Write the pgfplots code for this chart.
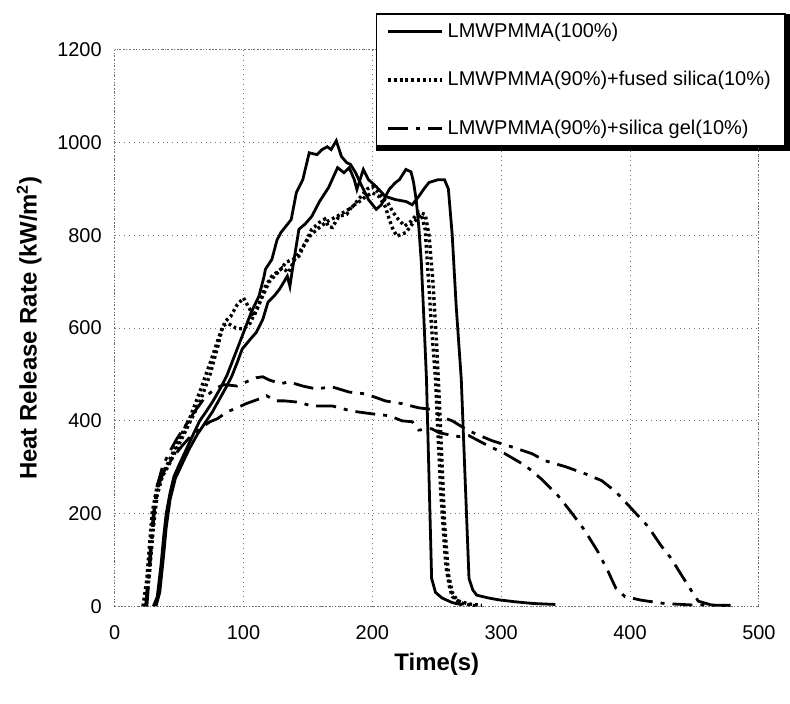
\documentclass[border=0pt]{standalone}
\usepackage{fontspec}
\setmainfont{Liberation Sans}
\usepackage{pgfplots}
\pgfplotsset{compat=1.18}
\usetikzlibrary{backgrounds}

\begin{document}
\begin{tikzpicture}
\begin{axis}[
  scale only axis, width=323pt, height=279pt,
  xmin=0, xmax=500, ymin=0, ymax=1200,
  xtick distance=100, ytick distance=200,
  major tick length=0pt,
  xmajorgrids, ymajorgrids,
  grid style={black!55, dotted, line width=0.5pt},
  axis line style={black!55, densely dotted, line width=0.6pt},
  tick label style={font=\fontsize{10}{12}\selectfont},
  /pgf/number format/assume math mode=true,
  /pgf/number format/1000 sep={},
  yticklabel style={xshift=-3pt},
  xticklabel style={yshift=-6pt},
  xlabel={\bfseries Time(s)},
  ylabel={\bfseries Heat Release Rate (kW/m\textsuperscript{2})},
  label style={font=\fontsize{12}{14}\selectfont},
  xlabel style={yshift=0pt},
  ylabel style={yshift=1pt},
  legend style={name=leg, at={(0.405,1.066)}, anchor=north west, draw=black, line width=0.9pt,
    fill=white, font=\fontsize{10}{12}\selectfont, row sep=11.5pt, inner xsep=5pt, inner ysep=2.5pt,
    cells={anchor=west}},
  legend image code/.code={\draw[#1] (0pt,0pt) -- (27pt,0pt);},
]
% LMWPMMA(100%) run 1
\addplot[black, line width=1.4pt] coordinates {
(30,0) (33,20) (36,90) (38,150) (40,200) (43,245) (46,280) (50,305) (55,335)
(60,365) (66,400) (71,420) (76,441) (82,470) (87,497) (93,540) (99,583) (106,634)
(112,669) (116,712) (117,727) (122,748) (126,790) (129,806) (133,820) (137,834)
(141,892) (146,920) (151,978) (157,974) (161,985) (165,991) (168,985) (172,1004)
(176,970) (180,957) (183,953) (187,935) (192,905) (197,877) (203,856) (207,866)
(213,899) (218,914) (221,920) (226,942) (230,937) (232,914) (234,877) (236,820)
(238,742) (240,620) (242,490) (244,275) (246,60) (249,30) (254,18) (262,8) (270,3)};
\addlegendentry{LMWPMMA(100\%)}
% LMWPMMA(100%) run 2
\addplot[black, line width=1.4pt, forget plot] coordinates {
(32,0) (35,30) (38,110) (40,170) (43,230) (47,275) (52,305) (58,340) (64,370)
(70,395) (76,420) (82,450) (87,475) (91,497) (95,525) (99,555) (105,575) (110,591)
(115,619) (119,656) (124,670) (128,684) (134,712) (136,690) (138,727) (143,813)
(148,825) (153,841) (159,873) (166,903) (173,946) (178,935) (182,946) (186,920)
(188,899) (193,942) (197,920) (203,905) (210,884) (218,877) (226,873) (231,866)
(236,884) (240,900) (244,914) (251,920) (256,920) (259,900) (262,800) (265,650)
(269,490) (272,275) (275,60) (278,35) (281,24) (290,18) (298,14) (310,10) (325,6) (342,4)};
% fused silica run 1
\addplot[black, line width=1.7pt, dash pattern=on 1.4pt off 1.5pt] coordinates {
(22,0) (25,60) (27,130) (29,200) (33,260) (37,285) (43,318) (50,360) (58,404)
(66,462) (76,540) (82,590) (86,615) (90,625) (95,650) (100,665) (104,645) (108,625)
(112,650) (117,690) (122,712) (129,727) (133,742) (138,748) (143,755) (148,784)
(153,813) (159,828) (163,835) (166,819) (169,817) (174,841) (180,845) (184,862)
(190,873) (195,884) (200,892) (205,884) (210,862) (215,819) (219,798) (226,806)
(232,828) (238,845) (241,813) (243,727) (246,600) (249,490) (253,250) (257,88)
(260,40) (262,21) (268,8) (275,3) (282,0)};
\addlegendentry{LMWPMMA(90\%)+fused silica(10\%)}
% fused silica run 2
\addplot[black, line width=1.7pt, dash pattern=on 1.4pt off 1.5pt, forget plot] coordinates {
(24,0) (27,70) (30,170) (33,240) (37,280) (43,310) (50,350) (58,395) (66,440)
(74,500) (80,560) (84,605) (88,610) (94,600) (100,598) (105,610) (110,640) (115,670)
(120,700) (125,715) (130,730) (135,720) (140,750) (146,775) (152,800) (158,815)
(165,830) (172,840) (178,850) (184,860) (190,880) (196,900) (200,905) (204,895)
(208,880) (212,870) (216,850) (220,835) (225,820) (230,830) (236,850) (241,845)
(244,800) (247,700) (250,560) (253,380) (256,180) (259,70) (262,30) (266,12) (275,5) (285,2)};
% silica gel run 1
\addplot[black, line width=1.4pt, dash pattern=on 10pt off 4pt on 2pt off 4pt] coordinates {
(24,0) (27,100) (30,200) (33,260) (37,300) (42,330) (48,360) (55,390) (62,420)
(70,450) (78,470) (85,478) (95,475) (103,485) (110,493) (115,495) (120,488) (129,480)
(135,484) (146,475) (156,469) (169,473) (182,462) (195,458) (210,443) (223,437)
(236,428) (245,425) (254,408) (262,400) (272,383) (280,372) (293,357) (308,344)
(324,329) (334,314) (350,301) (365,286) (378,271) (389,247) (399,217) (406,196)
(414,172) (424,131) (432,103) (440,67) (448,32) (453,11) (463,3) (478,0)};
\addlegendentry{LMWPMMA(90\%)+silica gel(10\%)}
% silica gel run 2
\addplot[black, line width=1.4pt, dash pattern=on 10pt off 4pt on 2pt off 4pt, forget plot] coordinates {
(25,0) (28,110) (31,210) (34,260) (38,290) (45,320) (52,345) (60,370) (67,385)
(74,398) (80,405) (87,419) (95,428) (102,437) (112,447) (118,454) (125,443) (132,443)
(143,440) (153,432) (169,432) (184,421) (200,415) (213,411) (223,400) (231,398)
(236,380) (246,383) (252,374) (267,366) (275,368) (290,346) (303,329) (319,303)
(331,275) (344,239) (354,204) (365,163) (375,118) (383,75) (389,39) (396,21)
(409,13) (427,6) (447,3) (478,2)};
\end{axis}
\begin{scope}[on background layer]
\fill[black] ([shift={(0.45pt,-2.2pt)}]leg.south west) rectangle ([shift={(2.2pt,-0.45pt)}]leg.north east);
\end{scope}
\path ([shift={(-57.5pt,-48.5pt)}]current axis.south west) rectangle ([shift={(14.5pt,25pt)}]current axis.north east);
\end{tikzpicture}
\end{document}
